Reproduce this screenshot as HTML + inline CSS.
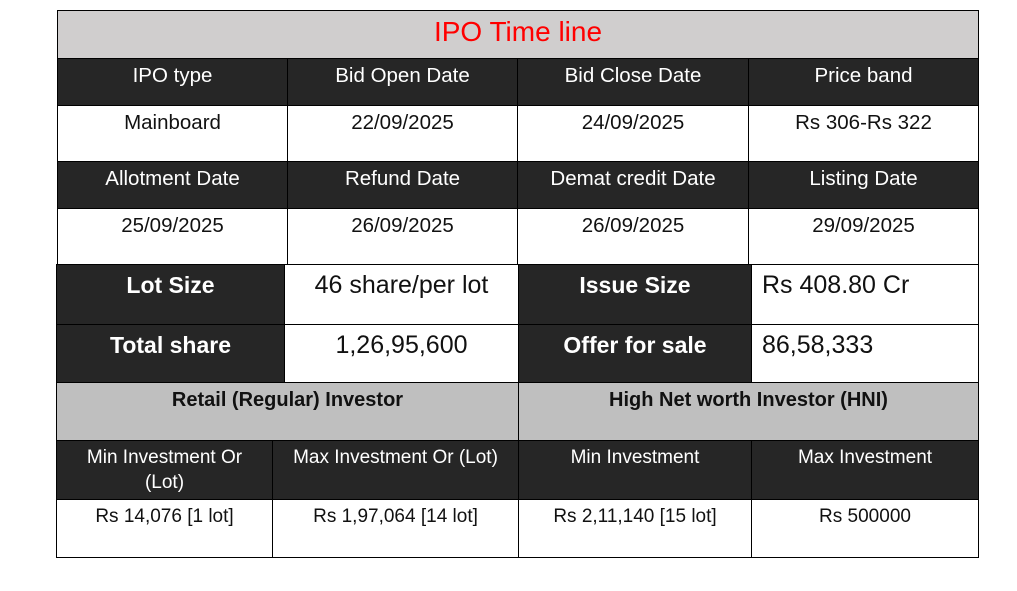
<!DOCTYPE html>
<html><head><meta charset="utf-8"><style>
body{margin:0;width:1017px;height:591px;background:#fff;position:relative;overflow:hidden;font-family:"Liberation Sans",sans-serif}
.c{position:absolute;box-sizing:border-box;border:1px solid #000;text-align:center;font-size:20.5px;line-height:24px;color:#111;padding-top:5px;white-space:nowrap}
.d{background:#262626;color:#fff}
.g{background:#bfbfbf;font-weight:bold;color:#111;font-size:20px}
.b{font-weight:bold;font-size:23px;line-height:28px;padding-top:6px}
.v{font-size:25px;line-height:28px;padding-top:6px}
.l{text-align:left;padding-left:10px}
</style></head><body>
<div class="c" style="left:57px;top:10px;width:922px;height:49px;background:#d0cece;color:#f00;font-size:28px;line-height:32px;padding-top:5px">IPO Time line</div>

<div class="c d" style="left:57px;top:58px;width:231px;height:48px">IPO type</div>
<div class="c d" style="left:287px;top:58px;width:231px;height:48px">Bid Open Date</div>
<div class="c d" style="left:517px;top:58px;width:232px;height:48px">Bid Close Date</div>
<div class="c d" style="left:748px;top:58px;width:231px;height:48px">Price band</div>

<div class="c" style="left:57px;top:105px;width:231px;height:57px">Mainboard</div>
<div class="c" style="left:287px;top:105px;width:231px;height:57px">22/09/2025</div>
<div class="c" style="left:517px;top:105px;width:232px;height:57px">24/09/2025</div>
<div class="c" style="left:748px;top:105px;width:231px;height:57px">Rs 306-Rs 322</div>

<div class="c d" style="left:57px;top:161px;width:231px;height:48px">Allotment Date</div>
<div class="c d" style="left:287px;top:161px;width:231px;height:48px">Refund Date</div>
<div class="c d" style="left:517px;top:161px;width:232px;height:48px">Demat credit Date</div>
<div class="c d" style="left:748px;top:161px;width:231px;height:48px">Listing Date</div>

<div class="c" style="left:57px;top:208px;width:231px;height:57px">25/09/2025</div>
<div class="c" style="left:287px;top:208px;width:231px;height:57px">26/09/2025</div>
<div class="c" style="left:517px;top:208px;width:232px;height:57px">26/09/2025</div>
<div class="c" style="left:748px;top:208px;width:231px;height:57px">29/09/2025</div>

<div class="c d b" style="left:56px;top:264px;width:229px;height:61px">Lot Size</div>
<div class="c v" style="left:284px;top:264px;width:235px;height:61px">46 share/per lot</div>
<div class="c d b" style="left:518px;top:264px;width:234px;height:61px">Issue Size</div>
<div class="c v l" style="left:751px;top:264px;width:228px;height:61px">Rs 408.80 Cr</div>

<div class="c d b" style="left:56px;top:324px;width:229px;height:59px">Total share</div>
<div class="c v" style="left:284px;top:324px;width:235px;height:59px">1,26,95,600</div>
<div class="c d b" style="left:518px;top:324px;width:234px;height:59px">Offer for sale</div>
<div class="c v l" style="left:751px;top:324px;width:228px;height:59px">86,58,333</div>

<div class="c g" style="left:56px;top:382px;width:463px;height:59px">Retail (Regular) Investor</div>
<div class="c g" style="left:518px;top:382px;width:461px;height:59px">High Net worth Investor (HNI)</div>

<div class="c d" style="left:56px;top:440px;width:217px;height:60px;line-height:25px;padding-top:4px;white-space:normal;font-size:19px">Min Investment Or<br>(Lot)</div>
<div class="c d" style="left:272px;top:440px;width:247px;height:60px;line-height:25px;padding-top:4px;font-size:19px">Max Investment Or (Lot)</div>
<div class="c d" style="left:518px;top:440px;width:234px;height:60px;line-height:25px;padding-top:4px;font-size:19px">Min Investment</div>
<div class="c d" style="left:751px;top:440px;width:228px;height:60px;line-height:25px;padding-top:4px;font-size:19px">Max Investment</div>

<div class="c" style="left:56px;top:499px;width:217px;height:59px;padding-top:5px;font-size:19px">Rs 14,076 [1 lot]</div>
<div class="c" style="left:272px;top:499px;width:247px;height:59px;padding-top:5px;font-size:19px">Rs 1,97,064 [14 lot]</div>
<div class="c" style="left:518px;top:499px;width:234px;height:59px;padding-top:5px;font-size:19px">Rs 2,11,140 [15 lot]</div>
<div class="c" style="left:751px;top:499px;width:228px;height:59px;padding-top:5px;font-size:19px">Rs 500000</div>
</body></html>
